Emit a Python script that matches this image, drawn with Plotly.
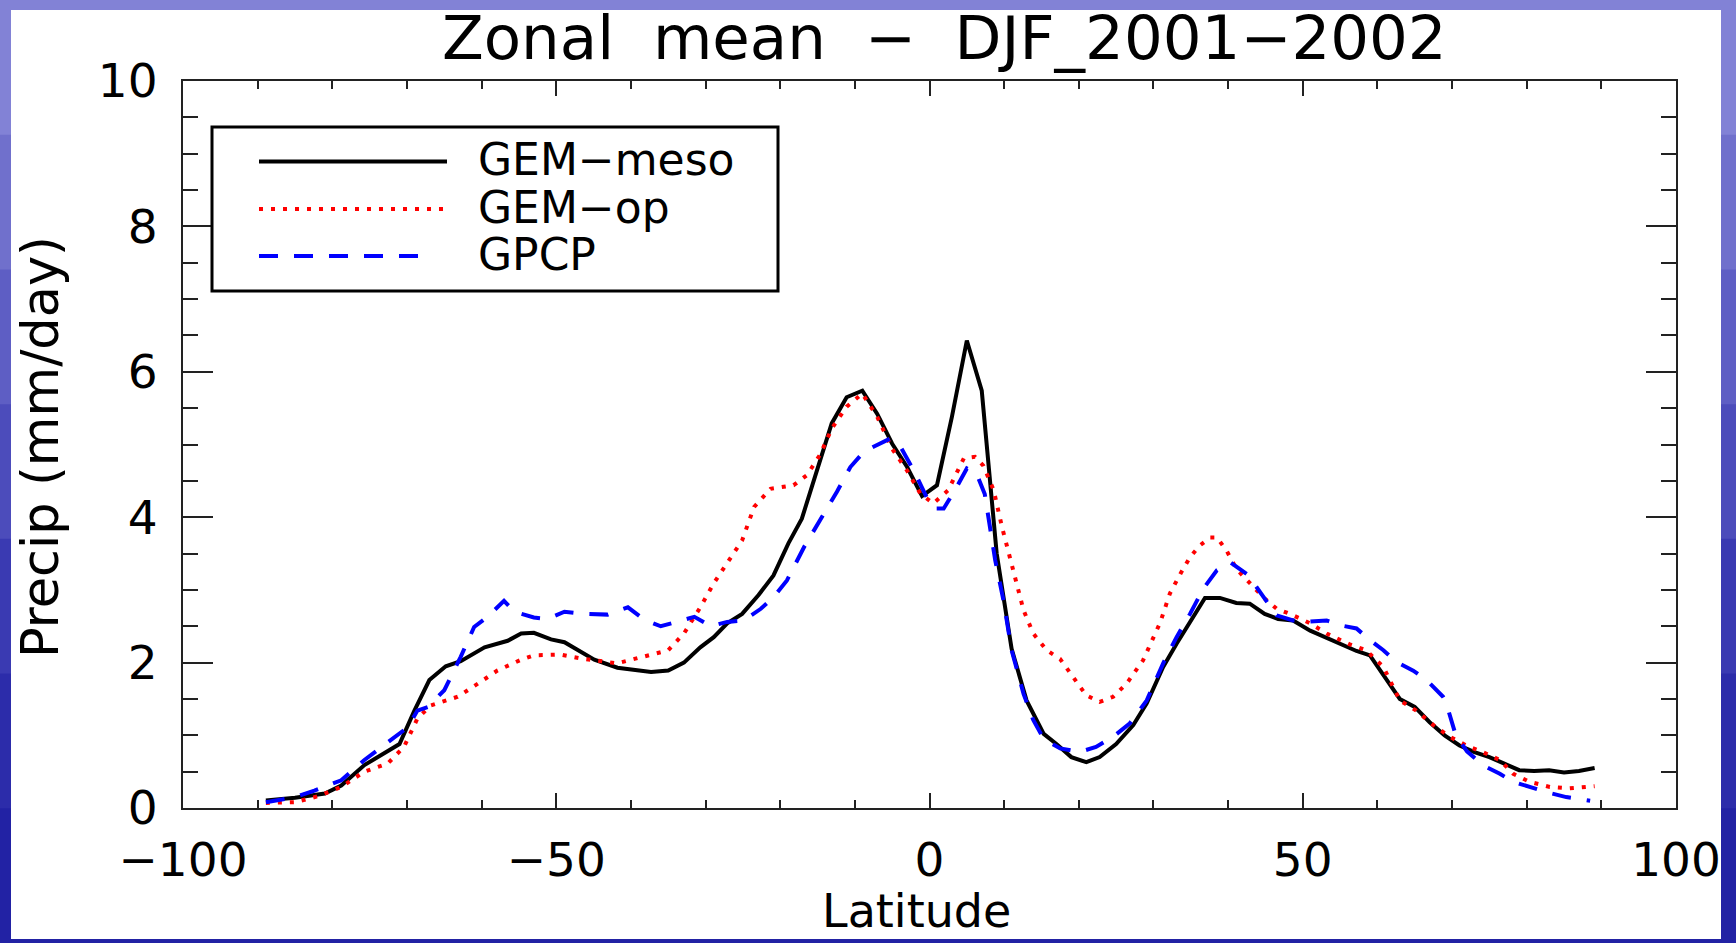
import plotly.graph_objects as go

# ---------------- data ----------------
lat_meso = [-88.9, -85, -81, -78.8, -75.7, -73, -71, -69, -67, -64.8, -62.8, -59.6, -56.5, -54.7, -53,
            -50.7, -48.9, -44.9, -41.8, -37.3, -35, -32.9, -30.7, -28.9, -27.1, -25.1, -22.9, -20.9,
            -18.9, -17.1, -15.1, -13.1, -11.1, -9, -7, -5, -3, -1, 1, 3, 5, 7, 9, 11, 13, 15.3, 17,
            19, 21, 22.8, 25, 27.3, 29.1, 31.3, 33.1, 34.9, 36.9, 38.9, 41.1, 42.9, 44.9, 46.7, 48.7,
            51, 53, 55, 57.2, 59, 61, 63, 65, 67, 69, 71, 73, 75, 77, 79, 81, 83, 85, 87, 89.1]
gem_meso = [0.105, 0.14, 0.2, 0.31, 0.59, 0.75, 0.88, 1.34, 1.76, 1.95, 2.02, 2.21, 2.30, 2.40, 2.41,
            2.32, 2.28, 2.04, 1.93, 1.87, 1.89, 2.0, 2.21, 2.35, 2.54, 2.67, 2.93, 3.2,
            3.64, 3.98, 4.64, 5.29, 5.65, 5.74, 5.42, 5.01, 4.69, 4.29, 4.44, 5.38, 6.43, 5.74, 3.5, 2.19, 1.48, 1.02, 0.88,
            0.70, 0.63, 0.70, 0.88, 1.14, 1.44, 1.94, 2.26, 2.56, 2.89, 2.89, 2.82, 2.81, 2.67, 2.6, 2.58,
            2.44, 2.35, 2.26, 2.16, 2.1, 1.8, 1.5, 1.39, 1.18, 1.0, 0.86, 0.77, 0.70, 0.61, 0.52, 0.51, 0.52, 0.49, 0.51, 0.55]

lat_op = [-88.9, -85, -82, -78.8, -75.7, -72.6, -70.4, -68.6, -66.8, -63.2, -60.5, -57.9, -54.7, -53,
          -49.4, -46.3, -41.8, -37.8, -35, -32.9, -30.7, -28.9, -27.1, -25.1, -23.5, -21.3, -18.2,
          -16.4, -14.6, -13.1, -11.1, -9, -7, -5, -3, -1.2, 0.5, 2.5, 4.6, 6.1, 7.2, 8.6, 9.7, 10.6,
          11.5, 12.6, 13.9, 15.7, 17.5, 19.3, 21, 22.8, 24.6, 26.4, 28.6, 30.9, 32.2, 33.6, 34.9,
          36.2, 37.6, 38.5, 39.8, 41.1, 42.9, 44.7, 46.5, 48.3, 51, 53.2, 56.3, 58.5, 60.8, 63, 65.2,
          67.5, 69.7, 71.9, 74.1, 76.4, 78.2, 80.4, 83.1, 85.7, 89.1]
gem_op = [0.07, 0.08, 0.16, 0.29, 0.5, 0.61, 0.84, 1.23, 1.41, 1.53, 1.71, 1.89, 2.04, 2.1,
          2.11, 2.05, 1.99, 2.1, 2.17, 2.4, 2.76, 3.09, 3.36, 3.68, 4.14, 4.39, 4.44,
          4.58, 4.87, 5.22, 5.52, 5.70, 5.38, 4.94, 4.64, 4.32, 4.19, 4.37, 4.81, 4.83, 4.71, 4.37, 3.87, 3.5,
          3.13, 2.72, 2.4, 2.17, 2.05, 1.8, 1.55, 1.46, 1.53, 1.71, 2.03, 2.55, 2.95, 3.22, 3.45,
          3.61, 3.72, 3.72, 3.54, 3.29, 3.09, 2.9, 2.74, 2.67, 2.54, 2.4, 2.25, 2.17, 1.94, 1.48, 1.34,
          1.14, 0.98, 0.86, 0.77, 0.66, 0.47, 0.36, 0.29, 0.27, 0.30]

lat_gpcp = [-88.9, -85, -82.4, -78.8, -75.7, -72.1, -69.9, -68.6, -67.2, -65, -62.8, -61, -59.2, -57,
            -55.6, -53, -51.2, -48.9, -46.3, -43.1, -40.4, -38.2, -36, -34.2, -31.5, -29.3, -27.1,
            -24.9, -22.6, -20.9, -19.1, -16.8, -14.6, -12.4, -10.6, -8.8, -7.5, -5.3, -3.9, -2.1, -0.4,
            0.8, 1.9, 3.4, 5, 6.3, 7.4, 8.1, 8.8, 9.9, 11, 12.6, 13.9, 15.3, 17.5, 20.1, 22.3, 24.6,
            26.8, 29.1, 31.3, 33.1, 34.9, 36.7, 38.5, 40.3, 42.5, 43.8, 45.2, 46.5, 48.7, 50.5, 53.2,
            55.2, 57.2, 59, 60.8, 62.5, 64.8, 66.6, 68.8, 69.2, 70.5, 72, 74.1, 76.4, 78.2, 80.4, 82.6,
            85.3, 87.5, 88.5]
gpcp = [0.08, 0.15, 0.24, 0.38, 0.66, 0.95, 1.11, 1.34, 1.39, 1.62, 2.08, 2.49, 2.63, 2.85,
        2.7, 2.62, 2.6, 2.7, 2.67, 2.66, 2.76, 2.59, 2.5, 2.55, 2.63, 2.5, 2.56,
        2.58, 2.74, 2.9, 3.13, 3.59, 3.96, 4.35, 4.69, 4.9, 4.97, 5.08, 4.97, 4.64, 4.28,
        4.12, 4.12, 4.37, 4.67, 4.6, 4.32, 3.87, 3.41, 2.86, 2.17, 1.57, 1.21, 0.95, 0.82, 0.77, 0.84, 0.98,
        1.16, 1.48, 1.99, 2.35, 2.67, 3.02, 3.27, 3.38, 3.22, 3.04, 2.83, 2.65, 2.58, 2.56, 2.58,
        2.51, 2.47, 2.31, 2.17, 2.01, 1.89, 1.76, 1.53, 1.45, 1.0, 0.78, 0.59, 0.47, 0.36, 0.29, 0.22,
        0.15, 0.11, 0.10]

series_names = ["GEM\u2212meso", "GEM\u2212op", "GPCP"]
title_text = "Zonal  mean  \u2212  DJF_2001\u22122002"
x_title = "Latitude"
y_title = "Precip (mm/day)"

# ---------------- layout geometry (pixels of the 1736x943 page) ----------------
W, H = 1736, 943
PL, PR, PT, PB = 183, 1676, 81, 808
FONT = "DejaVu Sans"
AX = "#222222"
border_tones = ["#8282d6", "#7070cc", "#5e5ec4", "#4c4cbb", "#3a3ab2", "#2c2caa", "#2222a4"]


def fx(px):
    return (px - PL) / (PR - PL)


def fy(py):
    return (PB - py) / (PB - PT)


fig = go.Figure()
fig.add_trace(go.Scatter(x=lat_meso, y=gem_meso, mode="lines", name=series_names[0],
                         line=dict(color="black", width=4), showlegend=False))
fig.add_trace(go.Scatter(x=lat_op, y=gem_op, mode="lines", name=series_names[1],
                         line=dict(color="#ff0000", width=4, dash="4px,8px"), showlegend=False))
fig.add_trace(go.Scatter(x=lat_gpcp, y=gpcp, mode="lines", name=series_names[2],
                         line=dict(color="#0000ff", width=4, dash="19px,16px"), showlegend=False))

shapes = []
band = H / len(border_tones)
for k, col in enumerate(border_tones):
    shapes.append(dict(type="rect", xref="paper", yref="paper", x0=fx(0), x1=fx(W),
                       y0=fy((k + 1) * band + 1), y1=fy(k * band), fillcolor=col,
                       line=dict(width=0), layer="below"))
# white slide panel
shapes.append(dict(type="rect", xref="paper", yref="paper", x0=fx(11), x1=fx(1721), y0=fy(939), y1=fy(10),
                   fillcolor="white", line=dict(width=0), layer="below"))
# legend box
shapes.append(dict(type="rect", xref="paper", yref="paper", x0=fx(212), x1=fx(778), y0=fy(291), y1=fy(127),
                   fillcolor="rgba(0,0,0,0)", line=dict(color="black", width=3), layer="above"))
row_y = [161.5, 209, 256]
styles = [dict(color="black", width=4), dict(color="#ff0000", width=4, dash="4px,8px"),
          dict(color="#0000ff", width=4, dash="19px,16px")]
ends = [447, 447, 432]
annotations = []
for i in range(3):
    shapes.append(dict(type="line", xref="paper", yref="paper", x0=fx(259), x1=fx(ends[i]),
                       y0=fy(row_y[i]), y1=fy(row_y[i]), line=styles[i], layer="above"))
    annotations.append(dict(text=series_names[i], xref="paper", yref="paper", x=fx(476), y=fy(row_y[i] - 2),
                            xanchor="left", yanchor="middle", showarrow=False,
                            font=dict(family=FONT, size=44, color="black")))

annotations.append(dict(text=title_text, xref="paper", yref="paper", x=fx(944), y=fy(38),
                        xanchor="center", yanchor="middle", showarrow=False,
                        font=dict(family=FONT, size=61, color="black")))
annotations.append(dict(text=x_title, xref="paper", yref="paper", x=fx(916), y=fy(911),
                        xanchor="center", yanchor="middle", showarrow=False,
                        font=dict(family=FONT, size=46, color="black")))
annotations.append(dict(text=y_title, xref="paper", yref="paper", x=fx(40), y=fy(447),
                        xanchor="center", yanchor="middle", showarrow=False, textangle=-90,
                        font=dict(family=FONT, size=51, color="black")))

fig.update_layout(
    width=W, height=H,
    margin=dict(l=PL, r=W - PR, t=PT, b=H - PB, pad=0),
    paper_bgcolor="#3434ae",
    plot_bgcolor="white",
    showlegend=False,
    shapes=shapes,
    annotations=annotations,
    font=dict(family=FONT, size=47, color="black"),
)
fig.update_xaxes(range=[-100, 100], tick0=0, dtick=50, ticks="inside", ticklen=15, tickwidth=2,
                 tickcolor=AX, showline=True, linecolor=AX, linewidth=2, mirror="allticks",
                 showgrid=False, zeroline=False, ticklabelstandoff=10,
                 tickfont=dict(family=FONT, size=47, color="black"),
                 minor=dict(dtick=10, ticks="inside", ticklen=8, tickwidth=2, tickcolor=AX, showgrid=False))
fig.update_yaxes(range=[0, 10], tick0=0, dtick=2, ticks="inside", ticklen=30, tickwidth=2,
                 tickcolor=AX, showline=True, linecolor=AX, linewidth=2, mirror="allticks",
                 showgrid=False, zeroline=False, ticklabelstandoff=14,
                 tickfont=dict(family=FONT, size=47, color="black"),
                 minor=dict(dtick=0.5, ticks="inside", ticklen=15, tickwidth=2, tickcolor=AX, showgrid=False))

fig.write_html("out.html")
